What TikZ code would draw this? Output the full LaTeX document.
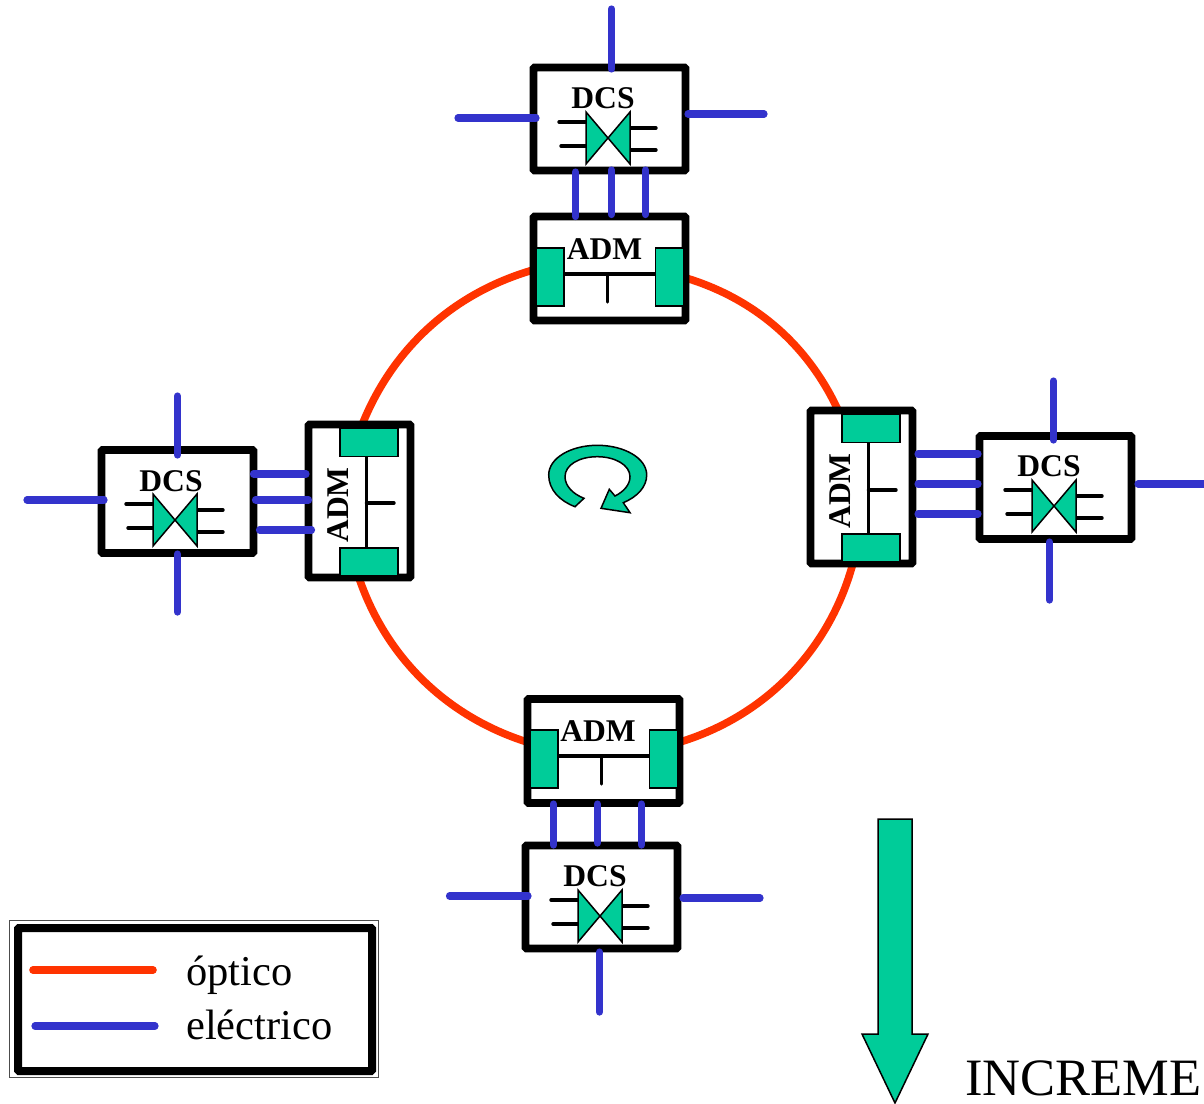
\documentclass[tikz,border=0pt]{standalone}
\usepackage{fontspec}
\setmainfont{Liberation Serif}
\definecolor{gr}{HTML}{00CC99}
\definecolor{bl}{HTML}{3333CC}
\definecolor{rd}{HTML}{FF3300}
\tikzset{
  unitbox/.style={draw=black,fill=white,line width=7.6pt,rounded corners=1pt,inner sep=0pt,outer sep=0pt},
  block/.style={draw=black,fill=gr,line width=1.5pt},
  thin/.style={line width=3.4pt,line cap=round,draw=black},
  wire/.style={line width=7.2pt,line cap=round,draw=bl},
  fibre/.style={line width=7.6pt,draw=rd},
  lab/.style={inner sep=0pt,font=\fontsize{31.6}{32}\selectfont\bfseries},
  leg/.style={inner sep=0pt,anchor=base west,font=\fontsize{42.5}{43}\selectfont}
}
% bowtie with left edge x, top edge y
\newcommand{\dcsglyph}[2]{%
  \draw[thin] (#1-27,#2+10) -- (#1,#2+10);
  \draw[thin] (#1-25,#2+34) -- (#1,#2+34);
  \draw[thin] (#1+44,#2+16) -- (#1+70,#2+16);
  \draw[thin] (#1+44,#2+38) -- (#1+70,#2+38);
  \draw[block,fill=gr,line join=miter] (#1,#2) -- (#1+44,#2+52) -- (#1+44,#2) -- (#1,#2+52) -- cycle;
}
\newcommand{\wireseg}[5]{%
  \coordinate (#1a) at (#2,#3); \coordinate (#1b) at (#4,#5);
  \draw[wire] (#1a) -- (#1b);
}
\begin{document}
\begin{tikzpicture}[x=1pt,y=-1pt]
\useasboundingbox (0,0) rectangle (1204,1103);
\fill[white] (0,0) rectangle (1204,1103);

% ring
\coordinate (r1) at (686,278);
\coordinate (r2) at (838,410);
\coordinate (r3) at (853,563);
\coordinate (r4) at (680,742);
\coordinate (r5) at (527,742);
\coordinate (r6) at (358,575);
\coordinate (r7) at (362,425);
\coordinate (r8) at (533,270);
\draw[fibre] (r1) to[bend left=24,looseness=.92] (r2);
\draw[fibre] (r3) to[bend left=29,looseness=.92] (r4);
\draw[fibre] (r5) to[bend left=27,looseness=.92] (r6);
\draw[fibre] (r7) to[bend left=26,looseness=.92] (r8);

% top unit
\node[unitbox,minimum width=152pt,minimum height=103pt] (dcsT) at (609.5,119) {};
\node[unitbox,minimum width=152pt,minimum height=104pt] (admT) at (609.5,268.5) {};
\node[lab] (dcsTl) at (603,98) {DCS};
\dcsglyph{586}{112}
\node[block,minimum width=28pt,minimum height=58pt,inner sep=0pt] (gTa) at (550,277) {};
\node[block,minimum width=28pt,minimum height=58pt,inner sep=0pt] (gTb) at (669.5,277) {};
\node[lab] (admTl) at (604.5,249) {ADM};
\coordinate (bTa) at (564,274); \coordinate (bTb) at (655.5,274);
\draw[thin,line cap=butt] (bTa) -- (bTb);
\coordinate (sT) at (607.5,274); \coordinate (sTe) at (607.5,302);
\draw[thin] (sT) -- (sTe);
\wireseg{wTa}{611.5}{9}{611.5}{69}
\wireseg{wTb}{458}{118}{536}{118}
\wireseg{wTc}{688}{114}{764}{114}
\wireseg{wTd}{575.5}{172}{575.5}{216.5}
\wireseg{wTe}{611.5}{170}{611.5}{214.5}
\wireseg{wTf}{645.5}{170}{645.5}{214.5}

% bottom unit
\node[unitbox,minimum width=152pt,minimum height=103pt] (dcsB) at (601.5,897) {};
\node[unitbox,minimum width=152pt,minimum height=104pt] (admB) at (603.5,751) {};
\node[lab] (dcsBl) at (595,876) {DCS};
\dcsglyph{578}{890}
\node[block,minimum width=28pt,minimum height=58pt,inner sep=0pt] (gBa) at (544,759) {};
\node[block,minimum width=28pt,minimum height=58pt,inner sep=0pt] (gBb) at (663.5,759) {};
\node[lab] (admBl) at (598,731) {ADM};
\coordinate (bBa) at (558,756); \coordinate (bBb) at (649.5,756);
\draw[thin,line cap=butt] (bBa) -- (bBb);
\coordinate (sB) at (601.5,756); \coordinate (sBe) at (601.5,784);
\draw[thin] (sB) -- (sBe);
\wireseg{wBa}{449.5}{896}{528}{896}
\wireseg{wBb}{683}{898}{760}{898}
\wireseg{wBc}{599.5}{952}{599.5}{1012}
\wireseg{wBd}{553.5}{804}{553.5}{845}
\wireseg{wBe}{597.5}{804}{597.5}{843}
\wireseg{wBf}{641.5}{804}{641.5}{845}

% left unit
\node[unitbox,minimum width=152pt,minimum height=103pt] (dcsL) at (177.5,501.5) {};
\node[unitbox,minimum width=102pt,minimum height=153pt] (admL) at (359.5,501) {};
\node[lab] (dcsLl) at (171,481) {DCS};
\dcsglyph{153}{494}
\node[block,minimum width=58pt,minimum height=28pt,inner sep=0pt] (gLa) at (369,442.5) {};
\node[block,minimum width=58pt,minimum height=28pt,inner sep=0pt] (gLb) at (369,562) {};
\node[lab,rotate=90] (admLl) at (338,505) {ADM};
\coordinate (bLa) at (366.5,456); \coordinate (bLb) at (366.5,548);
\draw[thin,line cap=butt] (bLa) -- (bLb);
\coordinate (sL) at (366.5,503); \coordinate (sLe) at (394,503);
\draw[thin] (sL) -- (sLe);
\wireseg{wLa}{177.5}{396}{177.5}{455}
\wireseg{wLb}{27}{500}{104}{500}
\wireseg{wLc}{177.5}{554}{177.5}{612}
\wireseg{wLd}{253.5}{474}{306}{474}
\wireseg{wLe}{255.5}{500}{308.5}{500}
\wireseg{wLf}{259.5}{530}{311.5}{530}

% right unit
\node[unitbox,minimum width=152pt,minimum height=103pt] (dcsR) at (1055.5,487.5) {};
\node[unitbox,minimum width=102pt,minimum height=153pt] (admR) at (861.5,487) {};
\node[lab] (dcsRl) at (1049,466) {DCS};
\dcsglyph{1032}{480}
\node[block,minimum width=58pt,minimum height=28pt,inner sep=0pt] (gRa) at (871,428.5) {};
\node[block,minimum width=58pt,minimum height=28pt,inner sep=0pt] (gRb) at (871,548) {};
\node[lab,rotate=90] (admRl) at (840,491) {ADM};
\coordinate (bRa) at (868.5,442); \coordinate (bRb) at (868.5,534);
\draw[thin,line cap=butt] (bRa) -- (bRb);
\coordinate (sR) at (868.5,490); \coordinate (sRe) at (896,490);
\draw[thin] (sR) -- (sRe);
\wireseg{wRa}{1053.5}{381}{1053.5}{440}
\wireseg{wRb}{1138}{484}{1210}{484}
\wireseg{wRc}{1049.5}{542}{1049.5}{600}
\wireseg{wRd}{918}{454}{978}{454}
\wireseg{wRe}{918}{484}{978}{484}
\wireseg{wRf}{918}{514}{978}{514}

% rotation arrow
\draw[block,line join=miter] (575,506.7)
  .. controls (560,501) and (548.7,490) .. (548.7,475)
  .. controls (548.7,458) and (571,445.3) .. (597.3,445.3)
  .. controls (624,445.3) and (646.7,458) .. (646.7,475)
  .. controls (646.7,487) and (637,497) .. (623.3,502.7)
  -- (630,512.7) -- (601,508.3) -- (609.3,489.3) -- (615,496)
  .. controls (624,491.5) and (630,484.5) .. (630,476.7)
  .. controls (630,465) and (615,456.7) .. (597.3,456.7)
  .. controls (579,456.7) and (565,465) .. (565,476.7)
  .. controls (565,486) and (573,494) .. (584,498.3)
  -- cycle;

% big arrow
\draw[block,line join=miter] (878,819) -- (912,819) -- (912,1034) -- (928,1034) -- (895,1103) -- (862,1034) -- (878,1034) -- cycle;
\node[inner sep=0pt,anchor=base west,font=\fontsize{52.5}{53}\selectfont] (inc) at (965,1095) {INCREME};

% legend
\draw[line width=1pt,draw=black!70] (9.5,920.5) rectangle (378,1077);
\draw[line width=8pt,rounded corners=1pt] (18,928) rectangle (372,1071);
\coordinate (la) at (33,970); \coordinate (lb) at (153,970);
\coordinate (lc) at (35,1026); \coordinate (ld) at (155,1026);
\draw[fibre,line cap=round] (la) -- (lb);
\draw[wire] (lc) -- (ld);
\node[leg] (lo) at (186,985) {óptico};
\node[leg] (le) at (186,1039) {eléctrico};
\end{tikzpicture}
\end{document}
